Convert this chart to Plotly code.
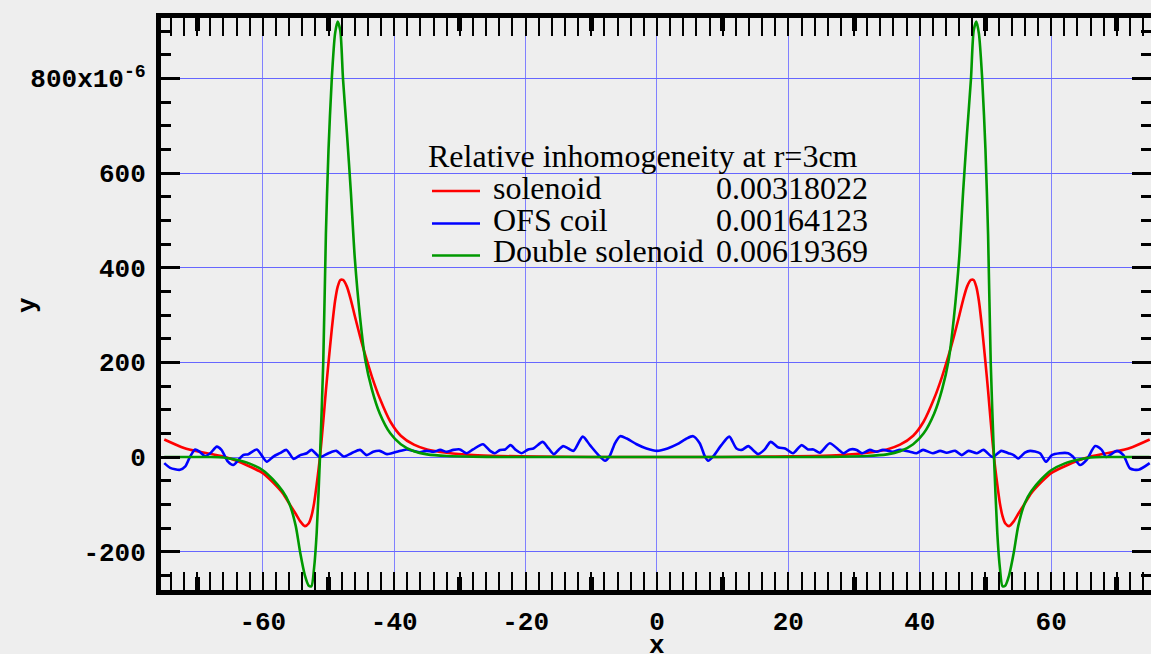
import numpy as np
import plotly.graph_objects as go

# ---------------- data (y values in units of 1e-6) ----------------
x_sol = [-75, -72, -70, -68, -66, -64, -62, -60, -58.5, -57,
         -56, -55, -54.3, -53.6, -53, -52.6, -52.2, -51.8, -51.3, -50.8,
         -50.4, -50, -49.5, -49, -48.6, -48.2, -47.8, -47.2, -46.6, -46,
         -45.2, -44.4, -43.4, -42.2, -40.6, -39, -37, -35, -32, -28,
         -24, -18, -10, 0,
         10, 18, 24, 28, 32, 35, 37, 39, 40.6, 42.2,
         43.4, 44.4, 45.2, 46, 46.6, 47.2, 47.8, 48.2, 48.6, 49,
         49.5, 50, 50.4, 50.8, 51.3, 51.8, 52.2, 52.6, 53, 53.6,
         54.3, 55, 56, 57, 58.5, 60, 62, 64, 66, 68,
         70, 72, 75]

solenoid = [37, 19, 12, 7, 1, -8, -20, -34, -53, -76,
            -98, -120, -136, -146, -140, -125, -98, -58, 0, 75,
            140, 200, 270, 330, 360, 374, 374, 360, 332, 298,
            255, 215, 170, 124, 75, 45, 26, 16, 9, 4,
            2, 1, 0, 0,
            0, 1, 2, 4, 9, 16, 26, 45, 75, 124,
            170, 215, 255, 298, 332, 360, 374, 374, 360, 330,
            270, 200, 140, 75, 0, -58, -98, -125, -140, -146,
            -136, -120, -98, -76, -53, -34, -20, -8, 1, 7,
            12, 19, 37]

double_solenoid = [0, 0, 0, 0, -1, -6, -14, -28, -47, -72,
                   -97, -145, -203, -250, -272, -273, -235, -160, 0, 200,
                   470, 650, 800, 895, 920, 900, 800, 685, 560, 420,
                   295, 205, 143, 92, 50, 27, 12, 5.5, 2, 0.5,
                   0, 0, 0, 0,
                   0, 0, 0, 0.5, 2, 5.5, 12, 27, 50, 92,
                   143, 205, 295, 420, 560, 685, 800, 900, 920, 895,
                   800, 650, 470, 200, 0, -160, -235, -273, -272, -250,
                   -203, -145, -97, -72, -47, -28, -14, -6, -1, 0,
                   0, 0, 0]

x_ofs = [-75.0, -74.1, -72.6, -71.8, -71.1, -70.3, -69.6, -68.8, -68.0, -67.0,
         -66.3, -65.3, -64.5, -63.7, -63.0, -62.2, -60.9, -60.2, -59.4, -58.4,
         -57.4, -56.4, -55.3, -54.3, -53.3, -52.6, -51.3, -50.0, -48.8, -47.7,
         -46.5, -45.2, -44.2, -43.2, -42.2, -41.1, -39.6, -38.1, -37.1, -36.1,
         -35.1, -34.0, -33.0, -32.0, -31.0, -30.0, -29.0, -28.0, -26.5, -25.4,
         -24.7, -23.9, -23.1, -22.3, -21.5, -20.6, -19.6, -18.8, -17.4, -16.5,
         -15.7, -15.0, -14.3, -13.5, -12.7, -11.3, -10.2, -8.9, -7.9, -7.2,
         -6.4, -5.6, -4.6, -3.1, -1.6, 0.0,
         1.6, 3.1, 4.4, 5.5, 6.5, 7.3, 7.8, 8.6, 9.8, 11.0,
         12.1, 12.9, 13.9, 14.9, 15.4, 16.4, 17.3, 18.5, 19.5, 20.7,
         22.0, 23.0, 23.8, 24.8, 26.3, 27.6, 28.4, 29.4, 30.4, 31.2,
         32.4, 33.4, 34.4, 35.9, 37.0, 38.5, 39.5, 40.5, 42.0, 43.1,
         44.1, 45.4, 46.4, 47.4, 48.7, 49.7, 51.1, 52.4, 53.5, 54.3,
         55.0, 56.0, 56.8, 58.3, 59.2, 60.1, 61.3, 62.6, 63.3, 64.4,
         65.4, 66.7, 67.7, 68.4, 70.0, 71.0, 72.0, 73.3, 75.0]

ofs_coil = [-13, -23, -27, -20, 0, 16, 11, 2, 8, 22,
            15, -10, -17, -6, 4, 6, 16, 4, -10, 1,
            8, 15, -4, 4, 8, 15, 0, 8, 13, 1,
            8, 15, 4, 11, 13, 6, 11, 16, 13, 10,
            13, 11, 15, 11, 15, 16, 8, 16, 27, 13,
            8, 15, 16, 25, 15, 8, 16, 18, 32, 18,
            6, 15, 23, 18, 13, 43, 25, 4, -8, 2,
            29, 44, 39, 27, 18, 13,
            18, 27, 38, 44, 29, 1, -8, 2, 25, 43,
            18, 15, 23, 11, 6, 16, 32, 20, 18, 8,
            25, 16, 16, 9, 29, 16, 8, 16, 15, 8,
            15, 11, 15, 11, 15, 11, 8, 15, 8, 13,
            9, 13, 4, 13, 8, 15, 0, 13, 8, 4,
            -3, 9, 13, 8, -10, 4, 8, 8, 1, -17,
            -6, 23, 15, 0, 13, 4, -24, -27, -13]

series_names = ["solenoid", "OFS coil", "Double solenoid"]
series_values = ["0.00318022", "0.00164123", "0.00619369"]
series_colors = ["#ff0000", "#0000ff", "#009900"]
legend_title = "Relative inhomogeneity at r=3cm"

x_title = "x"
y_title = "y"
x_tickvals = [-60, -40, -20, 0, 20, 40, 60]
x_ticktext = ["-60", "-40", "-20", "0", "20", "40", "60"]
y_tickvals = [-200, 0, 200, 400, 600, 800]
y_ticktext = ["-200", "0", "200", "400", "600", "800x10<sup>-6</sup>"]

SCALE = 1e-6

# ---------------- layout geometry (pixels) ----------------
W, H = 1151, 654
ML, MR, MT, MB = 161, 0, 18, 64
PW, PH = W - ML - MR, H - MT - MB


def px(xp):
    return (xp - ML) / PW


def py(yp):
    return (H - MB - yp) / PH


BG = "#eeeeee"
tickfont = dict(family="Liberation Mono", size=26, color="black", weight="bold")

fig = go.Figure()
ys = [solenoid, ofs_coil, double_solenoid]
xs = [x_sol, x_ofs, x_sol]
for name, xv, yv, col in zip(series_names, xs, ys, series_colors):
    fig.add_trace(go.Scatter(
        x=xv, y=np.array(yv, dtype=float) * SCALE, mode="lines", name=name,
        line=dict(color=col, width=2.6, shape="spline", smoothing=0.7),
        showlegend=False))

# invisible traces hosting the overlay axes that carry extra tick rows
fig.add_trace(go.Scatter(x=[None], y=[None], xaxis="x2", yaxis="y",
                         showlegend=False, hoverinfo="skip"))
fig.add_trace(go.Scatter(x=[None], y=[None], xaxis="x", yaxis="y2",
                         showlegend=False, hoverinfo="skip"))

xr = [-75.5, 75.2]
yr = [-281 * SCALE, 927.5 * SCALE]
y_minor = [v * SCALE for v in np.arange(-250, 950, 50)]
y_major = [v * SCALE for v in y_tickvals]

fig.update_layout(
    width=W, height=H,
    margin=dict(l=ML, r=MR, t=MT, b=MB, pad=0, autoexpand=False),
    paper_bgcolor=BG, plot_bgcolor=BG,
    showlegend=False,
    xaxis=dict(
        range=xr, automargin=False,
        tickmode="array", tickvals=x_tickvals, ticktext=x_ticktext,
        ticks="inside", ticklen=18, tickwidth=2, tickcolor="black",
        showline=True, linewidth=5, linecolor="black", mirror="allticks",
        showgrid=True, gridcolor="#8080ff", gridwidth=1, zeroline=False,
        tickfont=tickfont, ticklabelstandoff=4,
        minor=dict(tickmode="array", tickvals=list(np.arange(-74, 76, 2)),
                   ticks="inside", ticklen=9, tickwidth=2, tickcolor="black",
                   showgrid=False),
    ),
    xaxis2=dict(
        overlaying="x", anchor="y", side="bottom", range=xr, automargin=False,
        tickmode="array", tickvals=list(np.arange(-70, 80, 20)),
        ticks="inside", ticklen=13, tickwidth=5, tickcolor="black",
        showticklabels=False, showgrid=False, zeroline=False,
        showline=False, mirror="ticks",
    ),
    yaxis=dict(
        range=yr, automargin=False,
        tickmode="array", tickvals=y_major, ticktext=y_ticktext,
        ticks="inside", ticklen=19, tickwidth=2.5, tickcolor="black",
        showline=True, linewidth=5, linecolor="black", mirror=False,
        showgrid=True, gridcolor="#6666ff", gridwidth=1, zeroline=False,
        tickfont=tickfont, ticklabelstandoff=5,
        minor=dict(tickmode="array", tickvals=y_minor,
                   ticks="inside", ticklen=10, tickwidth=2.5, tickcolor="black",
                   showgrid=False),
    ),
    yaxis2=dict(
        overlaying="y", anchor="x", side="right", range=yr, automargin=False,
        tickmode="array", tickvals=y_major,
        ticks="inside", ticklen=19, tickwidth=2.5, tickcolor="black",
        showticklabels=False, showgrid=False, zeroline=False, showline=False,
        minor=dict(tickmode="array", tickvals=y_minor,
                   ticks="inside", ticklen=10, tickwidth=2.5, tickcolor="black",
                   showgrid=False),
    ),
)

# ---------------- axis titles ----------------
annotations = [
    dict(text=x_title, xref="paper", yref="paper", x=px(657), y=py(646),
         xanchor="center", yanchor="middle", showarrow=False, font=tickfont),
    dict(text=y_title, xref="paper", yref="paper", x=px(28), y=py(305),
         xanchor="center", yanchor="middle", showarrow=False, font=tickfont,
         textangle=-90),
]

# ---------------- manual legend block ----------------
LEG_FONT = dict(family="Liberation Serif", size=32, color="black")
shapes = [dict(type="rect", xref="paper", yref="paper",
               x0=px(428), x1=px(871), y0=py(273), y1=py(143),
               fillcolor=BG, line=dict(width=0), layer="between")]
annotations.append(dict(text=legend_title, xref="paper", yref="paper",
                        x=px(426), y=py(156), xanchor="left", yanchor="middle",
                        showarrow=False, font=LEG_FONT))
row_centers = [188, 219.5, 251]
line_y = [191, 223.5, 255.5]
for name, val, col, yc, yl in zip(series_names, series_values, series_colors,
                                  row_centers, line_y):
    shapes.append(dict(type="line", xref="paper", yref="paper",
                       x0=px(432), x1=px(480), y0=py(yl), y1=py(yl),
                       line=dict(color=col, width=2.5), layer="above"))
    annotations.append(dict(text=name, xref="paper", yref="paper",
                            x=px(491), y=py(yc), xanchor="left", yanchor="middle",
                            showarrow=False, font=LEG_FONT))
    annotations.append(dict(text=val, xref="paper", yref="paper",
                            x=px(870), y=py(yc), xanchor="right", yanchor="middle",
                            showarrow=False, font=LEG_FONT))
fig.update_layout(shapes=shapes, annotations=annotations)

fig.write_html("out.html")
